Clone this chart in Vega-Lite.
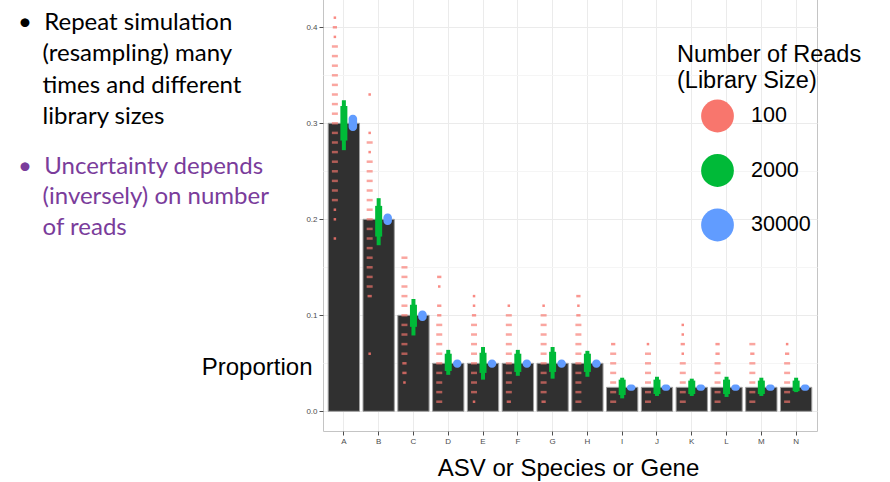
{
  "$schema": "https://vega.github.io/schema/vega-lite/v6.json",
  "width": 494,
  "height": 433,
  "autosize": {"type": "none"},
  "padding": {"left": 323, "top": -2, "right": 73, "bottom": 51},
  "background": "white",
  "config": {
    "font": "Liberation Sans",
    "view": {"stroke": "#c4c4c4", "strokeWidth": 1},
    "axis": {"domain": false, "labelFontSize": 8, "labelColor": "#4d4d4d", "tickColor": "#4d4d4d", "tickSize": 4, "labelPadding": 2, "titleFontWeight": "normal", "titleColor": "black", "titleFontSize": 24}
  },
  "title": {
    "text": ["•\u00a0\u00a0Repeat simulation", "\u200b\u00a0\u00a0\u00a0\u00a0(resampling) many", "\u200b\u00a0\u00a0\u00a0\u00a0times and different", "\u200b\u00a0\u00a0\u00a0\u00a0library sizes"],
    "subtitle": ["•\u00a0\u00a0Uncertainty depends", "\u200b\u00a0\u00a0\u00a0\u00a0(inversely) on number", "\u200b\u00a0\u00a0\u00a0\u00a0of reads"],
    "orient": "top",
    "anchor": "start",
    "frame": "group",
    "align": "left",
    "baseline": "top",
    "offset": 0,
    "dx": -305,
    "dy": 241.5,
    "font": "Lato",
    "fontSize": 24,
    "fontWeight": "normal",
    "color": "black",
    "lineHeight": 31.3,
    "subtitleFont": "Lato",
    "subtitleFontSize": 24,
    "subtitleColor": "#7a3c9b",
    "subtitleLineHeight": 30.5,
    "subtitlePadding": 25.5,
    "limit": 400
  },
  "datasets": {
    "bars": [
      {"cat": "A", "p": 0.3}, {"cat": "B", "p": 0.2}, {"cat": "C", "p": 0.1},
      {"cat": "D", "p": 0.05}, {"cat": "E", "p": 0.05}, {"cat": "F", "p": 0.05}, {"cat": "G", "p": 0.05}, {"cat": "H", "p": 0.05},
      {"cat": "I", "p": 0.025}, {"cat": "J", "p": 0.025}, {"cat": "K", "p": 0.025}, {"cat": "L", "p": 0.025}, {"cat": "M", "p": 0.025}, {"cat": "N", "p": 0.025}
    ],
    "red": [
      {"cat": "A", "v": 0.18, "n": 1}, {"cat": "A", "v": 0.20, "n": 1}, {"cat": "A", "v": 0.21, "n": 1},
      {"cat": "A", "v": 0.22, "n": 3}, {"cat": "A", "v": 0.23, "n": 3}, {"cat": "A", "v": 0.24, "n": 3}, {"cat": "A", "v": 0.25, "n": 3},
      {"cat": "A", "v": 0.26, "n": 3}, {"cat": "A", "v": 0.27, "n": 3}, {"cat": "A", "v": 0.28, "n": 3}, {"cat": "A", "v": 0.29, "n": 3},
      {"cat": "A", "v": 0.30, "n": 3}, {"cat": "A", "v": 0.31, "n": 3}, {"cat": "A", "v": 0.32, "n": 3}, {"cat": "A", "v": 0.33, "n": 3},
      {"cat": "A", "v": 0.34, "n": 3}, {"cat": "A", "v": 0.35, "n": 3}, {"cat": "A", "v": 0.36, "n": 3}, {"cat": "A", "v": 0.37, "n": 3},
      {"cat": "A", "v": 0.38, "n": 3}, {"cat": "A", "v": 0.39, "n": 1}, {"cat": "A", "v": 0.40, "n": 2}, {"cat": "A", "v": 0.41, "n": 1},
      {"cat": "B", "v": 0.06, "n": 1}, {"cat": "B", "v": 0.12, "n": 2}, {"cat": "B", "v": 0.13, "n": 3}, {"cat": "B", "v": 0.14, "n": 3},
      {"cat": "B", "v": 0.15, "n": 3}, {"cat": "B", "v": 0.16, "n": 3}, {"cat": "B", "v": 0.17, "n": 3}, {"cat": "B", "v": 0.18, "n": 3},
      {"cat": "B", "v": 0.19, "n": 3}, {"cat": "B", "v": 0.20, "n": 3}, {"cat": "B", "v": 0.21, "n": 3}, {"cat": "B", "v": 0.22, "n": 3},
      {"cat": "B", "v": 0.23, "n": 3}, {"cat": "B", "v": 0.24, "n": 3}, {"cat": "B", "v": 0.25, "n": 3}, {"cat": "B", "v": 0.26, "n": 3},
      {"cat": "B", "v": 0.27, "n": 1}, {"cat": "B", "v": 0.28, "n": 3}, {"cat": "B", "v": 0.29, "n": 1}, {"cat": "B", "v": 0.33, "n": 1},
      {"cat": "C", "v": 0.03, "n": 1}, {"cat": "C", "v": 0.04, "n": 2}, {"cat": "C", "v": 0.05, "n": 2}, {"cat": "C", "v": 0.06, "n": 3},
      {"cat": "C", "v": 0.07, "n": 3}, {"cat": "C", "v": 0.08, "n": 3}, {"cat": "C", "v": 0.09, "n": 3}, {"cat": "C", "v": 0.10, "n": 3},
      {"cat": "C", "v": 0.11, "n": 3}, {"cat": "C", "v": 0.12, "n": 3}, {"cat": "C", "v": 0.13, "n": 3}, {"cat": "C", "v": 0.14, "n": 3},
      {"cat": "C", "v": 0.15, "n": 3}, {"cat": "C", "v": 0.16, "n": 3},
      {"cat": "D", "v": 0.01, "n": 3}, {"cat": "D", "v": 0.02, "n": 3}, {"cat": "D", "v": 0.03, "n": 3}, {"cat": "D", "v": 0.04, "n": 3},
      {"cat": "D", "v": 0.05, "n": 3}, {"cat": "D", "v": 0.06, "n": 3}, {"cat": "D", "v": 0.07, "n": 3}, {"cat": "D", "v": 0.08, "n": 3},
      {"cat": "D", "v": 0.09, "n": 3}, {"cat": "D", "v": 0.10, "n": 2}, {"cat": "D", "v": 0.11, "n": 2}, {"cat": "D", "v": 0.13, "n": 1},
      {"cat": "D", "v": 0.14, "n": 2},
      {"cat": "E", "v": 0.01, "n": 1}, {"cat": "E", "v": 0.02, "n": 3}, {"cat": "E", "v": 0.03, "n": 3}, {"cat": "E", "v": 0.04, "n": 3},
      {"cat": "E", "v": 0.05, "n": 3}, {"cat": "E", "v": 0.06, "n": 3}, {"cat": "E", "v": 0.07, "n": 3}, {"cat": "E", "v": 0.08, "n": 3},
      {"cat": "E", "v": 0.09, "n": 3}, {"cat": "E", "v": 0.10, "n": 2}, {"cat": "E", "v": 0.11, "n": 1}, {"cat": "E", "v": 0.12, "n": 1},
      {"cat": "F", "v": 0.01, "n": 2}, {"cat": "F", "v": 0.02, "n": 3}, {"cat": "F", "v": 0.03, "n": 3}, {"cat": "F", "v": 0.04, "n": 3},
      {"cat": "F", "v": 0.05, "n": 3}, {"cat": "F", "v": 0.06, "n": 3}, {"cat": "F", "v": 0.07, "n": 3}, {"cat": "F", "v": 0.08, "n": 3},
      {"cat": "F", "v": 0.09, "n": 3}, {"cat": "F", "v": 0.10, "n": 3}, {"cat": "F", "v": 0.11, "n": 1},
      {"cat": "G", "v": 0.01, "n": 2}, {"cat": "G", "v": 0.02, "n": 3}, {"cat": "G", "v": 0.03, "n": 3}, {"cat": "G", "v": 0.04, "n": 3},
      {"cat": "G", "v": 0.05, "n": 3}, {"cat": "G", "v": 0.06, "n": 3}, {"cat": "G", "v": 0.07, "n": 3}, {"cat": "G", "v": 0.08, "n": 3},
      {"cat": "G", "v": 0.09, "n": 3}, {"cat": "G", "v": 0.10, "n": 3}, {"cat": "G", "v": 0.11, "n": 1},
      {"cat": "H", "v": 0.01, "n": 3}, {"cat": "H", "v": 0.02, "n": 3}, {"cat": "H", "v": 0.03, "n": 3}, {"cat": "H", "v": 0.04, "n": 3},
      {"cat": "H", "v": 0.05, "n": 3}, {"cat": "H", "v": 0.06, "n": 3}, {"cat": "H", "v": 0.07, "n": 3}, {"cat": "H", "v": 0.08, "n": 3},
      {"cat": "H", "v": 0.09, "n": 3}, {"cat": "H", "v": 0.10, "n": 2}, {"cat": "H", "v": 0.11, "n": 1}, {"cat": "H", "v": 0.12, "n": 2},
      {"cat": "I", "v": 0.01, "n": 3}, {"cat": "I", "v": 0.02, "n": 3}, {"cat": "I", "v": 0.03, "n": 3}, {"cat": "I", "v": 0.04, "n": 3},
      {"cat": "I", "v": 0.05, "n": 3}, {"cat": "I", "v": 0.06, "n": 3}, {"cat": "I", "v": 0.07, "n": 2},
      {"cat": "J", "v": 0.01, "n": 3}, {"cat": "J", "v": 0.02, "n": 3}, {"cat": "J", "v": 0.03, "n": 3}, {"cat": "J", "v": 0.04, "n": 3},
      {"cat": "J", "v": 0.05, "n": 3}, {"cat": "J", "v": 0.06, "n": 3}, {"cat": "J", "v": 0.07, "n": 1},
      {"cat": "K", "v": 0.01, "n": 3}, {"cat": "K", "v": 0.02, "n": 3}, {"cat": "K", "v": 0.03, "n": 3}, {"cat": "K", "v": 0.04, "n": 3},
      {"cat": "K", "v": 0.05, "n": 3}, {"cat": "K", "v": 0.06, "n": 1}, {"cat": "K", "v": 0.07, "n": 2}, {"cat": "K", "v": 0.08, "n": 1},
      {"cat": "K", "v": 0.09, "n": 1},
      {"cat": "L", "v": 0.01, "n": 3}, {"cat": "L", "v": 0.02, "n": 3}, {"cat": "L", "v": 0.03, "n": 3}, {"cat": "L", "v": 0.04, "n": 3},
      {"cat": "L", "v": 0.05, "n": 3}, {"cat": "L", "v": 0.06, "n": 2}, {"cat": "L", "v": 0.07, "n": 2},
      {"cat": "M", "v": 0.01, "n": 3}, {"cat": "M", "v": 0.02, "n": 3}, {"cat": "M", "v": 0.03, "n": 3}, {"cat": "M", "v": 0.04, "n": 3},
      {"cat": "M", "v": 0.05, "n": 3}, {"cat": "M", "v": 0.06, "n": 2}, {"cat": "M", "v": 0.07, "n": 3},
      {"cat": "N", "v": 0.01, "n": 3}, {"cat": "N", "v": 0.02, "n": 3}, {"cat": "N", "v": 0.03, "n": 3}, {"cat": "N", "v": 0.04, "n": 3},
      {"cat": "N", "v": 0.05, "n": 3}, {"cat": "N", "v": 0.06, "n": 2}, {"cat": "N", "v": 0.07, "n": 1}
    ],
    "green": [
      {"cat": "A", "lo": 0.272, "clo": 0.282, "chi": 0.318, "hi": 0.324},
      {"cat": "B", "lo": 0.173, "clo": 0.182, "chi": 0.214, "hi": 0.222},
      {"cat": "C", "lo": 0.079, "clo": 0.088, "chi": 0.111, "hi": 0.117},
      {"cat": "D", "lo": 0.038, "clo": 0.042, "chi": 0.060, "hi": 0.064},
      {"cat": "E", "lo": 0.033, "clo": 0.040, "chi": 0.061, "hi": 0.067},
      {"cat": "F", "lo": 0.037, "clo": 0.041, "chi": 0.060, "hi": 0.064},
      {"cat": "G", "lo": 0.034, "clo": 0.041, "chi": 0.062, "hi": 0.067},
      {"cat": "H", "lo": 0.036, "clo": 0.041, "chi": 0.060, "hi": 0.063},
      {"cat": "I", "lo": 0.0135, "clo": 0.017, "chi": 0.033, "hi": 0.035},
      {"cat": "J", "lo": 0.016, "clo": 0.018, "chi": 0.033, "hi": 0.036},
      {"cat": "K", "lo": 0.016, "clo": 0.018, "chi": 0.032, "hi": 0.034},
      {"cat": "L", "lo": 0.015, "clo": 0.018, "chi": 0.033, "hi": 0.036},
      {"cat": "M", "lo": 0.016, "clo": 0.018, "chi": 0.032, "hi": 0.035},
      {"cat": "N", "lo": 0.020, "clo": 0.021, "chi": 0.032, "hi": 0.035}
    ],
    "blue": [
      {"cat": "A", "lo": 0.292, "hi": 0.309}, {"cat": "B", "lo": 0.194, "hi": 0.206}, {"cat": "C", "lo": 0.094, "hi": 0.105},
      {"cat": "D", "lo": 0.0455, "hi": 0.054}, {"cat": "E", "lo": 0.0455, "hi": 0.054}, {"cat": "F", "lo": 0.0455, "hi": 0.054},
      {"cat": "G", "lo": 0.0455, "hi": 0.054}, {"cat": "H", "lo": 0.0455, "hi": 0.054},
      {"cat": "I", "lo": 0.0215, "hi": 0.028}, {"cat": "J", "lo": 0.0215, "hi": 0.028}, {"cat": "K", "lo": 0.0215, "hi": 0.028},
      {"cat": "L", "lo": 0.0215, "hi": 0.028}, {"cat": "M", "lo": 0.0215, "hi": 0.028}, {"cat": "N", "lo": 0.0215, "hi": 0.028}
    ]
  },
  "encoding": {
    "x": {
      "field": "cat", "type": "nominal",
      "scale": {"paddingInner": 0.1, "paddingOuter": 0.15},
      "axis": {"title": "ASV or Species or Gene", "labelAngle": 0, "grid": true, "gridColor": "#ebebeb", "titleX": 245, "titleY": 44, "titleBaseline": "alphabetic", "titleAlign": "center", "titleAnchor": null}
    }
  },
  "layer": [
    {
      "data": {"name": "bars"},
      "mark": {"type": "bar", "fill": "#303030", "stroke": "#a0a0a0", "strokeWidth": 1},
      "encoding": {
        "y": {
          "field": "p", "type": "quantitative",
          "scale": {"domain": [-0.0205, 0.4305], "nice": false, "zero": false},
          "axis": {
            "title": "Proportion",
            "values": [0, 0.05, 0.1, 0.15, 0.2, 0.25, 0.3, 0.35, 0.4],
            "labelExpr": "round(datum.value*100) % 10 == 0 ? format(datum.value, '.1f') : ''",
            "tickOpacity": {"condition": {"test": "round(datum.value*100) % 10 == 0", "value": 1}, "value": 0},
            "gridColor": {"condition": {"test": "round(datum.value*100) % 10 == 0", "value": "#ebebeb"}, "value": "#f5f5f5"},
            "titleAngle": 0, "titleAlign": "right", "titleBaseline": "alphabetic", "titleX": -11, "titleY": 376
          }
        }
      }
    },
    {
      "data": {"name": "red"},
      "transform": [{"calculate": "'100'", "as": "reads"}],
      "mark": {"type": "tick", "orient": "horizontal", "thickness": 2.5},
      "encoding": {
        "y": {"field": "v", "type": "quantitative", "title": "Proportion"},
        "xOffset": {"field": "reads", "type": "nominal", "scale": {"domain": ["100", "2000", "30000"], "paddingOuter": 0.24, "paddingInner": 0}},
        "size": {"field": "n", "type": "ordinal", "scale": {"domain": [1, 2, 3], "range": [2.5, 6, 7]}, "legend": null},
        "opacity": {"field": "n", "type": "ordinal", "scale": {"domain": [1, 2, 3], "range": [0.85, 0.65, 1]}, "legend": null},
        "color": {
          "field": "reads", "type": "nominal",
          "scale": {"domain": ["100", "2000", "30000"], "range": ["#F8766D", "#00BA38", "#619CFF"]},
          "legend": {
            "orient": "none", "legendX": 354, "legendY": 44.5, "padding": 0,
            "title": ["Number of Reads", "(Library Size)"], "titleFont": "Liberation Sans", "titleFontSize": 23.5, "titleFontWeight": "normal", "titleColor": "black", "titleLineHeight": 26, "titlePadding": 7.5, "titleLimit": 400,
            "labelFont": "Liberation Sans", "labelFontSize": 21.5, "labelColor": "black", "labelOffset": 17, "labelLimit": 200,
            "symbolType": "circle", "symbolSize": 1075, "symbolOpacity": 1, "symbolStrokeWidth": 0, "symbolOffset": 24, "rowPadding": 21.5
          }
        }
      }
    },
    {
      "data": {"name": "green"},
      "transform": [{"calculate": "'2000'", "as": "reads"}],
      "mark": {"type": "bar", "width": 4},
      "encoding": {
        "y": {"field": "lo", "type": "quantitative", "title": "Proportion"},
        "y2": {"field": "hi"},
        "xOffset": {"field": "reads", "type": "nominal", "scale": {"domain": ["100", "2000", "30000"], "paddingOuter": 0.24, "paddingInner": 0}},
        "color": {"field": "reads", "type": "nominal"}
      }
    },
    {
      "data": {"name": "green"},
      "transform": [{"calculate": "'2000'", "as": "reads"}],
      "mark": {"type": "bar", "width": 7},
      "encoding": {
        "y": {"field": "clo", "type": "quantitative", "title": "Proportion"},
        "y2": {"field": "chi"},
        "xOffset": {"field": "reads", "type": "nominal", "scale": {"domain": ["100", "2000", "30000"], "paddingOuter": 0.24, "paddingInner": 0}},
        "color": {"field": "reads", "type": "nominal"}
      }
    },
    {
      "data": {"name": "blue"},
      "transform": [{"calculate": "'30000'", "as": "reads"}],
      "mark": {"type": "bar", "width": 8.5, "cornerRadius": 4},
      "encoding": {
        "y": {"field": "lo", "type": "quantitative", "title": "Proportion"},
        "y2": {"field": "hi"},
        "xOffset": {"field": "reads", "type": "nominal", "scale": {"domain": ["100", "2000", "30000"], "paddingOuter": 0.24, "paddingInner": 0}},
        "color": {"field": "reads", "type": "nominal"}
      }
    }
  ]
}
